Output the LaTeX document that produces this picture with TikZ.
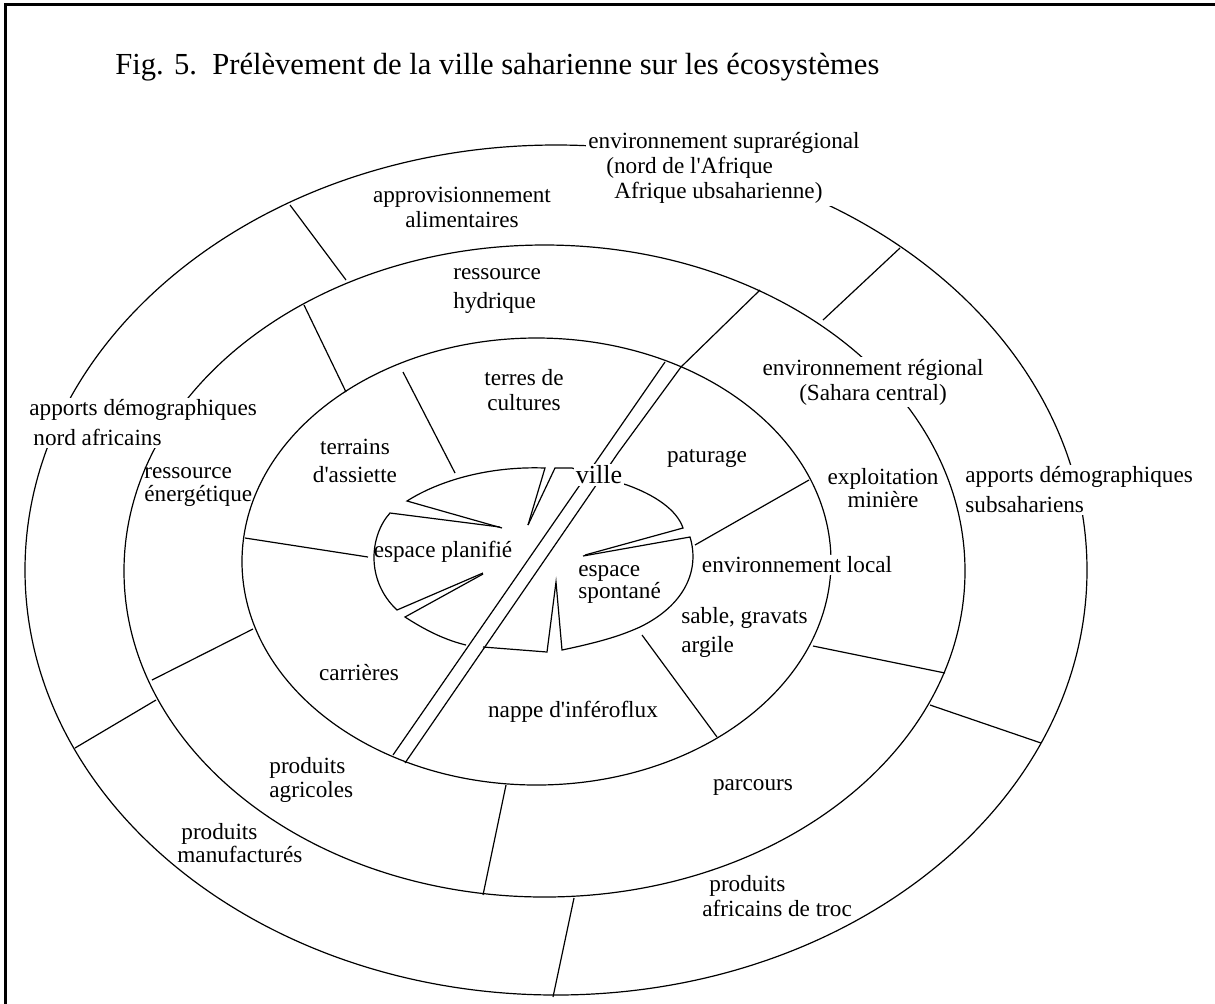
\documentclass[tikz,border=0pt]{standalone}
\usepackage{fontspec}
\setmainfont{Liberation Serif}
\tikzset{
    ringLine/.style={
        line width=0.6pt
    },
    ringLabel/.style={
        font=\fontsize{11.6}{12.5}\selectfont,
        inner sep=1pt
    },
    ringMask/.style={
        ringLabel,
        fill=white
    },
    leftLabel/.style={
        ringLabel,
        anchor=west,
        align=left
    }
}
\begin{document}
\begin{tikzpicture}[x=0.5pt,y=-0.5pt]
    \useasboundingbox (0,0) rectangle (1215,1003);
    % frame
    \draw[line width=1.5pt] (5,1010) -- (5,4) -- (1220,4);

    % the three rings
    \draw[ringLine] (556,570) ellipse [x radius=265.5pt, y radius=212.5pt];
    \draw[ringLine] (544.5,571) ellipse [x radius=210.25pt, y radius=163pt];
    \draw[ringLine] (536.5,561.5) ellipse [x radius=147.25pt, y radius=111.75pt];

    % outer ring separators
    \draw[ringLine] (290,205) -- (346,280);
    \draw[ringLine] (900,248) -- (823,320);
    \draw[ringLine] (1041,743) -- (930,705);
    \draw[ringLine] (553,997) -- (574,898);
    \draw[ringLine] (75,748) -- (156,700);

    % middle ring separators
    \draw[ringLine] (304,305) -- (346,392);
    \draw[ringLine] (813,646) -- (945,673);
    \draw[ringLine] (506,785) -- (483,895);
    \draw[ringLine] (152,680) -- (253,629);

    % inner ring separators
    \draw[ringLine] (403,372) -- (455,473);
    \draw[ringLine] (245,538) -- (368,557);
    \draw[ringLine] (809,480) -- (695,545);
    \draw[ringLine] (642,635) -- (717,737);

    % the town
    \draw[ringLine] (502,528) -- (407,501) .. controls (440,480) and (490,466) .. (545,468) -- (528,525);
    \draw[ringLine] (528,525) -- (555,468) -- (572,468) -- (627,485) .. controls (655,495) and (677,510) .. (683,528) -- (585,555);
    \draw[ringLine] (583,556) -- (690,537) .. controls (700,570) and (685,605) .. (640,627) .. controls (620,636) and (600,642) .. (562,650) -- (556,582) -- (547,652) -- (483,647);
    \draw[ringLine] (483,574) -- (405,617) .. controls (425,630) and (445,640) .. (466,645);
    \draw[ringLine] (500,527) -- (390,513) .. controls (370,535) and (365,580) .. (397,610) -- (483,573);

    % double line across the town
    \draw[ringLine] (665,362) -- (393,755);
    \draw[ringLine] (760,290) -- (681,367) -- (618,453) -- (588,497) -- (405,763);

    % title
    \node[font=\fontsize{15.3}{18}\selectfont, anchor=west, inner sep=0pt] (title) at (115,67)
        {Fig. 5.\ \ Prélèvement de la ville saharienne sur les écosystèmes};

    % labels
    \node[ringMask, anchor=west, align=left] (supra) at (586,168)
        {environnement suprarégional\\\hspace*{9pt}(nord de l\textquotesingle Afrique\\\hspace*{13pt}Afrique ubsaharienne)};
    \node[ringLabel, align=center] (approv) at (462,207) {approvisionnement\\alimentaires};
    \node[leftLabel, font=\fontsize{11.6}{14.5}\selectfont] (hydrique) at (451,291) {ressource\\hydrique};
    \node[ringLabel, align=center] (terres) at (524,390) {terres de\\cultures};
    \node[ringLabel, align=center, font=\fontsize{11.6}{14}\selectfont] (assiette) at (355,461) {terrains\\d\textquotesingle assiette};
    \node[ringMask, font=\fontsize{13}{14}\selectfont] (ville) at (599,475) {ville};
    \node[ringLabel] (paturage) at (707,458) {paturage};
    \node[ringMask, align=center] (regional) at (873,382) {environnement régional\\(Sahara central)};
    \node[ringLabel, align=center, font=\fontsize{11.6}{10.5}\selectfont] (miniere) at (883,488) {exploitation\\minière};
    \node[ringMask, anchor=west, align=left, font=\fontsize{11.6}{15}\selectfont] (subsah) at (963,490)
        {apports démographiques\\subsahariens};
    \node[ringMask, anchor=west, align=left, font=\fontsize{11.6}{15}\selectfont] (nordaf) at (27,423)
        {apports démographiques\\\hspace*{2pt}nord africains};
    \node[leftLabel, font=\fontsize{11.6}{11.5}\selectfont] (energie) at (142,487) {ressource\\énergétique};
    \node[ringLabel] (planifie) at (443,552) {espace planifié};
    \node[leftLabel, font=\fontsize{11.6}{11}\selectfont] (spontane) at (576,584) {espace\\spontané};
    \node[ringMask] (local) at (797,565) {environnement local};
    \node[leftLabel, font=\fontsize{11.6}{14.5}\selectfont] (sable) at (679,632) {sable, gravats\\argile};
    \node[ringLabel] (carrieres) at (359,673) {carrières};
    \node[ringLabel] (nappe) at (573,712) {nappe d\textquotesingle inféroflux};
    \node[leftLabel, font=\fontsize{11.6}{12}\selectfont] (agricoles) at (267,780) {produits\\agricoles};
    \node[ringLabel] (parcours) at (753,787) {parcours};
    \node[leftLabel, font=\fontsize{11.6}{10}\selectfont] (manuf) at (175,843) {\hspace*{2pt}produits\\manufacturés};
    \node[leftLabel] (troc) at (700,896) {\hspace*{3.5pt}produits\\africains de troc};
\end{tikzpicture}
\end{document}
